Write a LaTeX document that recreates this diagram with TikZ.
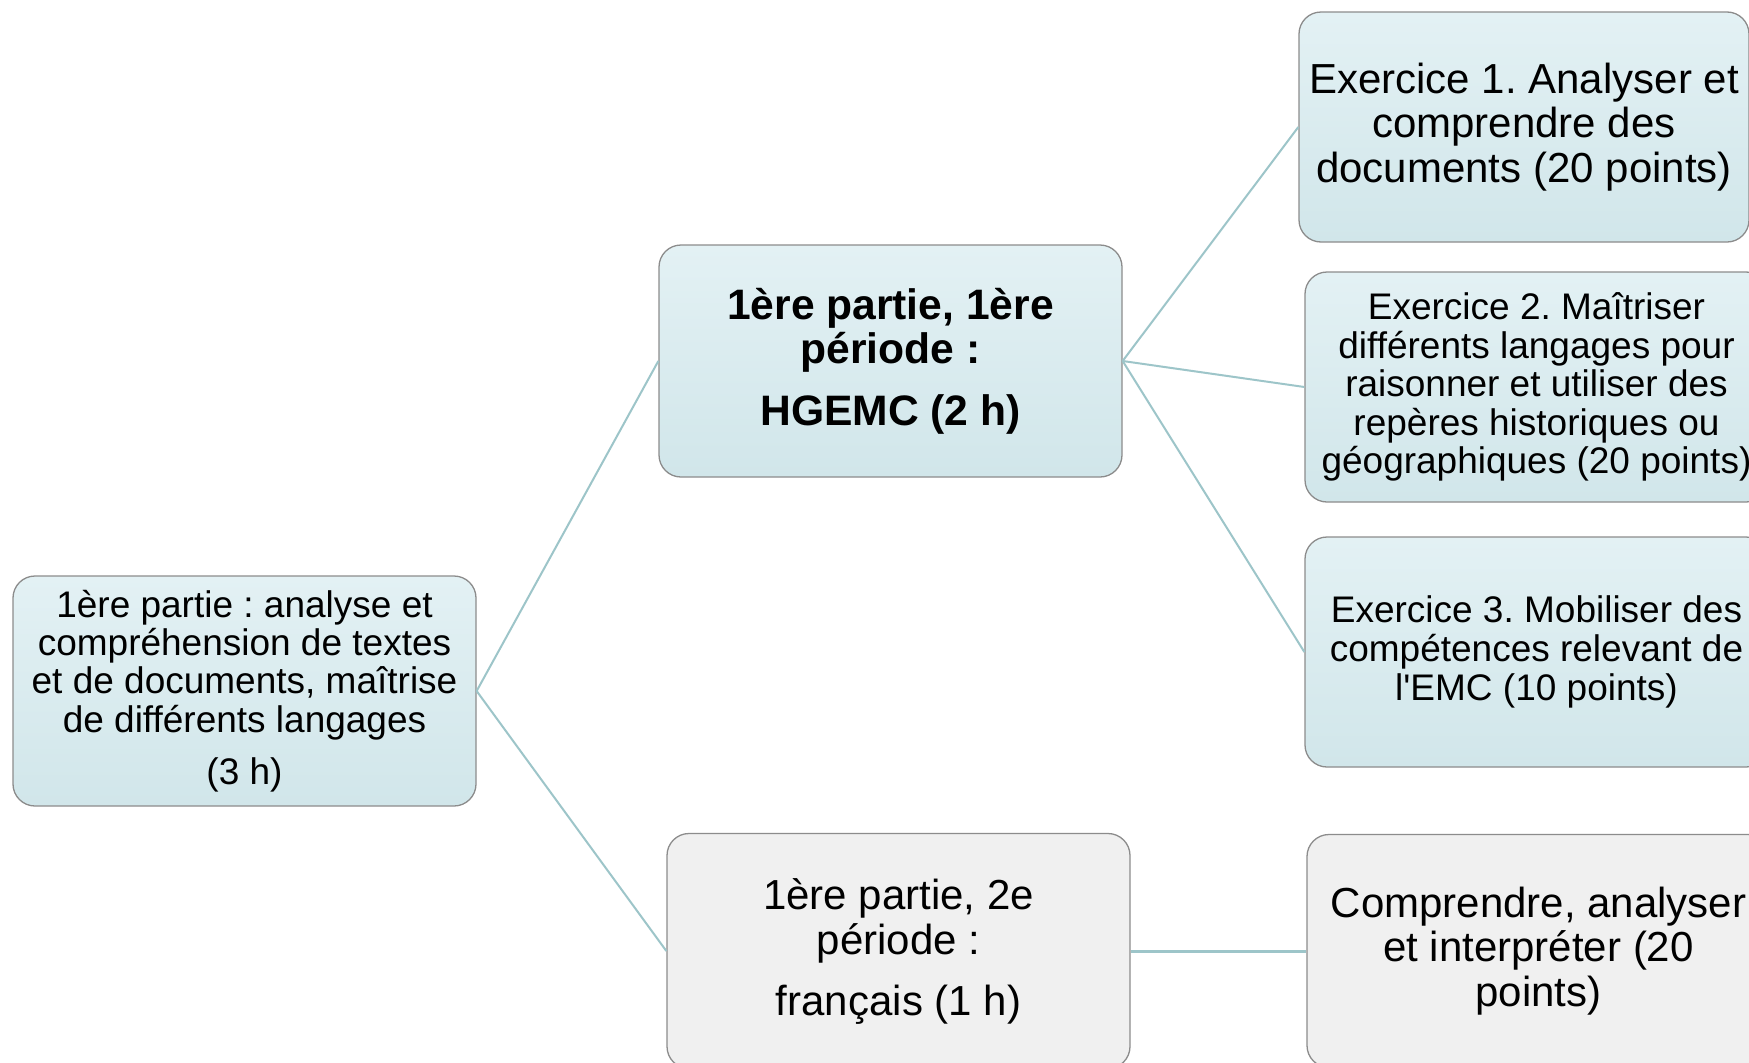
\documentclass[tikz,border=0pt]{standalone}
\usepackage{fontspec}
\setmainfont{Liberation Sans}
\newfontfamily\plainq{Liberation Sans}
\usetikzlibrary{shadings}
\definecolor{boxline}{HTML}{8C8C8C}
\definecolor{bluetop}{HTML}{E3F1F4}
\definecolor{bluebot}{HTML}{D1E6EA}
\definecolor{greyfill}{HTML}{F0F0F0}
\definecolor{conn}{HTML}{9DC5C9}
\tikzset{
  box/.style={rectangle, rounded corners=22pt, draw=boxline, line width=1.3pt,
    align=center, inner sep=0pt, text=black},
  bluebox/.style={box, top color=bluetop, bottom color=bluebot},
  greybox/.style={box, fill=greyfill},
  link/.style={draw=conn, line width=2pt},
  thicklink/.style={draw=conn, line width=3pt}
}
\frenchspacing
\begin{document}
\begin{tikzpicture}[x=1pt,y=-1pt]
\useasboundingbox (0,0) rectangle (1749,1063);
\clip (0,0) rectangle (1749,1063);
\fill[white] (0,0) rectangle (1749,1063);

\node[bluebox, minimum width=463pt, minimum height=230pt,
  font=\fontsize{37}{38.3}\selectfont] (root) at (244.5,691)
  {1ère partie : analyse et\\compréhension de textes\\et de documents, maîtrise\\de différents langages\\[13.7pt](3 h)};

\node[bluebox, minimum width=463pt, minimum height=232pt,
  font=\fontsize{42.6}{44.6}\selectfont\bfseries] (hg) at (890.5,361)
  {1ère partie, 1ère\\période :\\[17pt]HGEMC (2 h)};

\node[greybox, minimum width=463pt, minimum height=235pt,
  font=\fontsize{42}{45}\selectfont] (fr) at (898.5,951)
  {1ère partie, 2e\\période :\\[16pt]français (1 h)};

\node[bluebox, minimum width=450pt, minimum height=230pt,
  font=\fontsize{42}{44.3}\selectfont] (ex1) at (1524,127)
  {Exercice 1. Analyser et\\comprendre des\\documents (20 points)};

\node[bluebox, minimum width=463pt, minimum height=230pt,
  font=\fontsize{37}{38.6}\selectfont] (ex2) at (1536.5,387)
  {Exercice 2. Maîtriser\\différents langages pour\\raisonner et utiliser des\\repères historiques ou\\géographiques (20 points)};

\node[bluebox, minimum width=463pt, minimum height=230pt,
  font=\fontsize{37}{39}\selectfont] (ex3) at (1536.5,652)
  {Exercice 3. Mobiliser des\\compétences relevant de\\l{\plainq '}EMC (10 points)};

\node[greybox, minimum width=463pt, minimum height=233pt,
  font=\fontsize{42}{44.5}\selectfont] (comp) at (1538.5,951)
  {Comprendre, analyser\\et interpréter (20\\points)};

\draw[link] (root.east) -- (hg.west);
\draw[link] (root.east) -- (fr.west);
\draw[link] (hg.east) -- (ex1.west);
\draw[link] (hg.east) -- (ex2.west);
\draw[link] (hg.east) -- (ex3.west);
\draw[thicklink] (fr.east) -- (comp.west);
\end{tikzpicture}
\end{document}
